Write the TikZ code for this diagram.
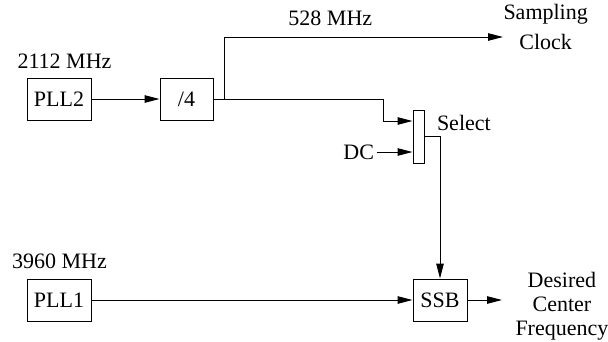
\documentclass[tikz,border=0pt]{standalone}
\usepackage{fontspec}
\setmainfont{Liberation Serif}
\usetikzlibrary{arrows.meta,positioning}

\begin{document}
\begin{tikzpicture}[
  x=1pt, y=-1pt,
  box/.style={draw, minimum height=42pt, inner sep=0pt},
  lbl/.style={inner sep=2pt},
  font=\fontsize{22}{24}\selectfont,
  line width=1pt,
  >={Triangle[length=15pt,width=7.5pt]}
]
\useasboundingbox (0,0) rectangle (608,341);
\node[box, minimum width=64pt] (pll2) at (59,99) {PLL2};
\node[box, minimum width=53pt, right=68pt of pll2] (div) {/4};
\node[box, minimum width=11pt, minimum height=53pt] (sel) at (418.5,136.5) {};
\node[box, minimum width=64pt] (pll1) at (59,300) {PLL1};
\node[box, minimum width=54pt] (ssb) at (440,300) {SSB};
\coordinate (in1) at ([yshift=15.5pt]sel.west);
\coordinate (in2) at ([yshift=-15.5pt]sel.west);
\coordinate (clkout) at (503,37);
\coordinate (ssbout) at (502,300);
\node[lbl, above=7pt of pll2, xshift=5.5pt] (f2112) {2112 MHz};
\node[lbl, above=7pt of pll1, xshift=0.5pt] (f3960) {3960 MHz};
\node[lbl, left=36pt of in2] (dc) {DC};
\node[lbl, right=10pt of sel, yshift=14pt] (selt) {Select};
\node[lbl, right=-2pt of clkout, yshift=10.5pt, align=center,
  font=\fontsize{22}{30}\selectfont] (clk) {Sampling\\Clock};
\node[lbl, right=11pt of ssbout, yshift=-6pt, align=center] (dcf) {Desired\\Center\\Frequency};
\draw[->] (pll2) -- (div);
\draw[->] (div.east) -- ++(170,0) |- (in1);
\draw[->] ([xshift=11pt]div.east) |- node[lbl, above=9pt, pos=0.69] (f528) {528 MHz} (clkout);
\draw[->] (dc) -- (in2);
\draw[->] (sel) -| (ssb);
\draw[->] (pll1) -- (ssb);
\draw[->] (ssb) -- (ssbout);
\end{tikzpicture}
\end{document}
